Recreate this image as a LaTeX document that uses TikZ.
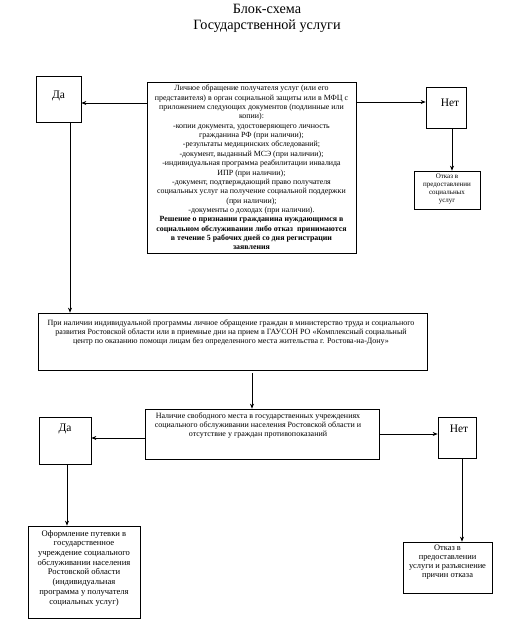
\documentclass[tikz,border=0pt]{standalone}
\usepackage{fontspec}
\setmainfont{Liberation Serif}
\usetikzlibrary{arrows.meta}
\begin{document}
\begin{tikzpicture}[x=1pt,y=-1pt,
  box/.style={draw, line width=0.7pt, inner sep=0pt},
  txt/.style={inner sep=0pt, align=center, font=\fontsize{7.9}{9.35}\selectfont},
  txtb/.style={inner sep=0pt, align=center, font=\fontsize{8}{8.8}\selectfont},
  txts/.style={inner sep=0pt, align=center, font=\fontsize{7}{8}\selectfont},
  txtl/.style={inner sep=0pt, align=center, font=\fontsize{8.6}{9.7}\selectfont},
  lbl/.style={inner sep=0pt, font=\fontsize{11.5}{13}\selectfont},
  arr/.style={-{Stealth[length=5pt,width=4pt]}, line width=0.7pt}]
\useasboundingbox[fill=white] (0,0) rectangle (513,620);

% title
\node[inner sep=0pt, align=center, font=\fontsize{14.2}{16}\selectfont] (title) at (267,18) {Блок-схема\\Государственной услуги};

% main box
\node[box, minimum width=209pt, minimum height=171pt] (m) at (251.5,167.5) {};
\node[txt, anchor=north] (mt) at (251.5,85) {Личное обращение получателя услуг (или его\\
представителя) в орган социальной защиты или в МФЦ с\\
приложением следующих документов (подлинные или\\
копии):\\
-копии документа, удостоверяющего личность\\
гражданина РФ (при наличии);\\
-результаты медицинских обследований;\\
-документ, выданный МСЭ (при наличии);\\
-индивидуальная программа реабилитации инвалида\\
ИПР (при наличии);\\
-документ, подтверждающий право получателя\\
социальных услуг на получение социальной поддержки\\
(при наличии);\\
-документы о доходах (при наличии).\\
\textbf{Решение о признании гражданина нуждающимся в}\\
\textbf{социальном обслуживании либо отказ\ \ принимаются}\\
\textbf{в течение 5 рабочих дней со дня регистрации}\\
\textbf{заявления}};

% Da 1
\node[box, minimum width=45pt, minimum height=46pt] (da1) at (58.5,99) {};
\node[lbl] (da1t) at (58.5,96) {Да};

% Net 1
\node[box, minimum width=40pt, minimum height=41pt] (net1) at (446,107.5) {};
\node[lbl] (net1t) at (450,103) {Нет};

% Otkaz 1
\node[box, minimum width=66pt, minimum height=38pt] (otk1) at (447,190) {};
\node[txts, anchor=north] (otk1t) at (447,173.5) {Отказ в\\предоставлении\\социальных\\услуг};

% box 2
\node[box, minimum width=389pt, minimum height=57pt] (b2) at (232.5,341.5) {};
\node[txtb, anchor=north] (b2t) at (231,320) {При наличии индивидуальной программы личное обращение граждан в министерство труда и социального\\
развития Ростовской области или в приемные дни на прием в ГАУСОН РО «Комплексный социальный\\
центр по оказанию помощи лицам без определенного места жительства г. Ростова-на-Дону»};

% box 3
\node[box, minimum width=234pt, minimum height=50pt] (b3) at (262,434) {};
\node[txtb, anchor=north] (b3t) at (258,413) {Наличие свободного места в государственных учреждениях\\
социального обслуживании населения Ростовской области и\\
отсутствие у граждан противопоказаний};

% Da 2
\node[box, minimum width=52pt, minimum height=47pt] (da2) at (65,440.5) {};
\node[lbl] (da2t) at (65,429) {Да};

% Net 2
\node[box, minimum width=38pt, minimum height=41pt] (net2) at (457,437.5) {};
\node[lbl] (net2t) at (459,429) {Нет};

% box 4
\node[box, minimum width=112pt, minimum height=92pt] (b4) at (84,572) {};
\node[txtl, anchor=north] (b4t) at (84,530) {Оформление путевки в\\государственное\\учреждение социального\\обслуживании населения\\Ростовской области\\(индивидуальная\\программа у получателя\\социальных услуг)};

% box 5
\node[box, minimum width=89pt, minimum height=51pt] (b5) at (447.5,567.5) {};
\node[txtl, anchor=north, font=\fontsize{8.4}{8.8}\selectfont] (b5t) at (447.5,545) {Отказ в\\предоставлении\\услуги и разъяснение\\причин отказа};

% connectors
\coordinate (p1) at (0,103);
\coordinate (p2) at (0,102);
\coordinate (p3) at (70,0);
\coordinate (p4) at (452,0);
\coordinate (p5) at (252,0);
\coordinate (p6) at (0,438);
\coordinate (p7) at (0,434);
\coordinate (p8) at (67,0);
\coordinate (p9) at (462,0);
\draw[arr] (m.west |- p1) -- (da1.east |- p1);
\draw[arr] (m.east |- p2) -- (net1.west |- p2);
\draw[arr] (da1.south -| p3) -- (b2.north -| p3);
\draw[arr] (net1.south -| p4) -- (otk1.north -| p4);
\draw[arr] ([yshift=-3pt]b2.south -| p5) -- (b3.north -| p5);
\draw[arr] (b3.west |- p6) -- (da2.east |- p6);
\draw[arr] (b3.east |- p7) -- (net2.west |- p7);
\draw[arr] (da2.south -| p8) -- (b4.north -| p8);
\draw[arr] (net2.south -| p9) -- (b5.north -| p9);
\end{tikzpicture}
\end{document}
